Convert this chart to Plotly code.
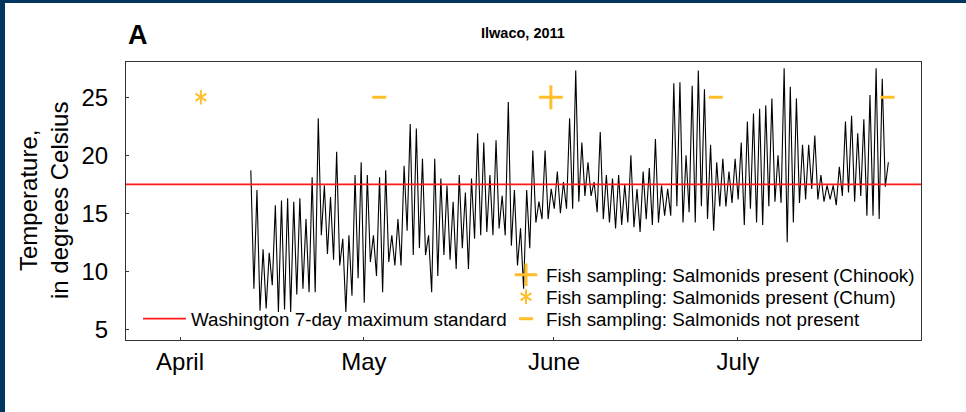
import pandas as pd
import plotly.graph_objects as go

# ---------------- data ----------------
BASE = pd.Timestamp("2011-04-01")
FIRST_DAY = 11.55          # day offset (from April 1) of first reading
STEP_DAYS = 0.5            # alternating afternoon high / night low

daily_high = [
    18.7, 17.0, 11.9, 11.6, 15.7, 16.1, 16.3, 16.0, 16.3, 14.5,
    18.1, 23.2, 17.4, 16.4, 20.3, 12.8, 13.1, 18.3, 19.4, 18.3,
    13.1, 18.1, 18.7, 13.1, 14.5, 19.1, 22.7, 22.3, 19.7, 13.1,
    19.7, 18.0, 17.4, 16.0, 18.3, 16.8, 18.0, 21.9, 21.1, 18.3,
    21.3, 16.5, 24.6, 17.0, 13.7, 17.0, 20.4, 16.0, 20.4, 17.1,
    18.6, 17.7, 23.2, 27.3, 21.1, 19.4, 17.7, 22.0, 18.3, 18.0,
    18.3, 17.5, 20.0, 17.1, 18.6, 18.9, 21.4, 17.4, 17.1, 26.2,
    26.3, 20.0, 26.0, 27.3, 25.7, 20.9, 19.4, 19.7, 18.6, 19.7,
    21.1, 22.9, 23.6, 24.0, 24.3, 24.9, 20.0, 27.5, 25.9, 24.9,
    20.9, 20.9, 21.7, 18.3, 17.4, 17.4, 19.0, 22.9, 23.4, 21.9,
    23.1, 25.2, 27.5, 26.6, 19.4,
]
daily_low = [
    8.5, 6.6, 6.8, 8.8, 6.5, 6.7, 6.5, 8.0, 8.5, 8.2,
    8.2, 13.1, 11.5, 11.0, 10.5, 6.5, 7.9, 9.4, 7.3, 10.8,
    9.6, 8.2, 10.8, 10.5, 10.5, 13.5, 11.4, 12.0, 11.4, 8.2,
    9.6, 11.4, 11.0, 10.2, 12.0, 10.2, 12.8, 13.1, 13.4, 13.1,
    13.7, 13.1, 12.2, 10.5, 8.5, 12.0, 14.2, 14.5, 14.5, 15.4,
    15.0, 15.4, 15.4, 16.0, 16.5, 16.5, 15.1, 14.5, 14.2, 13.7,
    14.0, 14.2, 13.8, 13.4, 14.5, 14.0, 14.2, 14.8, 14.8, 15.6,
    14.2, 15.1, 14.2, 15.6, 14.5, 13.5, 15.6, 15.6, 15.9, 16.2,
    14.0, 15.4, 14.2, 14.0, 15.6, 16.0, 15.9, 12.5, 14.2, 15.9,
    16.2, 17.1, 16.2, 16.0, 16.2, 15.7, 16.5, 16.8, 16.0, 16.5,
    14.8, 14.8, 14.5, 17.3,
]

standard_value = 17.5
standard_name = "Washington 7-day maximum standard"

# fish sampling events (day offset from April 1, plotted at 25)
sample_level = 25
chinook_days = [60.5]
chum_days = [3.4]
absent_days = [32.5, 87.4, 115.4]

month_ticks = ["2011-04-01", "2011-05-01", "2011-06-01", "2011-07-01"]
month_labels = ["April", "May", "June", "July"]
x_range = ["2011-03-23 04:30", "2011-07-30 21:00"]
y_range = [4.08, 28.04]
y_ticks = [5, 10, 15, 20, 25]

# ---------------- build series ----------------
temps = []
for i, h in enumerate(daily_high):
    temps.append(h)
    if i < len(daily_low):
        temps.append(daily_low[i])
times = [BASE + pd.Timedelta(days=FIRST_DAY + STEP_DAYS * i) for i in range(len(temps))]


def to_dates(days):
    return [BASE + pd.Timedelta(days=d) for d in days]


FONT = "Liberation Sans, Arial, sans-serif"
GOLD = "#FFBE2A"

fig = go.Figure()
fig.add_trace(go.Scatter(x=times, y=temps, mode="lines",
                         line=dict(color="black", width=1.1),
                         showlegend=False, hoverinfo="skip"))
fig.add_trace(go.Scatter(x=x_range, y=[standard_value] * 2, mode="lines",
                         line=dict(color="#FF1A1A", width=1.8),
                         name=standard_name, legend="legend"))
fig.add_trace(go.Scatter(x=to_dates(chinook_days), y=[sample_level] * len(chinook_days),
                         mode="markers", name="Fish sampling: Salmonids present (Chinook)",
                         marker=dict(symbol="cross-thin-open", size=17,
                                     line=dict(color=GOLD, width=3), color=GOLD),
                         legend="legend2"))
# six-armed asterisk = two three-armed symbols overlaid
fig.add_trace(go.Scatter(x=to_dates(chum_days), y=[sample_level] * len(chum_days),
                         mode="markers", name="Fish sampling: Salmonids present (Chum)",
                         marker=dict(symbol="y-up-open", size=9,
                                     line=dict(color=GOLD, width=2), color=GOLD),
                         legend="legend3"))
fig.add_trace(go.Scatter(x=to_dates(chum_days), y=[sample_level] * len(chum_days),
                         mode="markers", name=" ",
                         marker=dict(symbol="y-down-open", size=9,
                                     line=dict(color=GOLD, width=2), color=GOLD),
                         legend="legend5"))
fig.add_trace(go.Scatter(x=to_dates(absent_days), y=[sample_level] * len(absent_days),
                         mode="markers", name="Fish sampling: Salmonids not present",
                         marker=dict(symbol="line-ew-open", size=10,
                                     line=dict(color=GOLD, width=3), color=GOLD),
                         legend="legend4"))

W, H = 966, 412
L, R, T, B = 126, 45, 62, 72
pw, ph = W - L - R, H - T - B


def px(xp):
    return (xp - L) / pw


def py(yp):
    return (H - B - yp) / ph


def leg(xp, yp, **kw):
    d = dict(x=px(xp), y=py(yp), xanchor="left", yanchor="middle",
             bgcolor="rgba(0,0,0,0)", font=dict(size=18.8))
    d.update(kw)
    return d


fig.update_layout(
    width=W, height=H,
    margin=dict(l=L, r=R, t=T, b=B),
    paper_bgcolor="white", plot_bgcolor="white",
    font=dict(family=FONT, color="black", size=18.8),
    legend=leg(138, 319, itemwidth=43),
    legend2=leg(506, 275),
    legend3=leg(506, 297),
    legend4=leg(506, 319),
    legend5=leg(506, 297),
    xaxis=dict(type="date", range=x_range, tickvals=month_ticks, ticktext=month_labels,
               ticks="inside", ticklen=3, tickcolor="#333", showgrid=False,
               zeroline=False, showline=True, linecolor="#333", linewidth=1.2,
               mirror=True, tickfont=dict(size=24), ticklabelstandoff=0),
    yaxis=dict(range=y_range, tickvals=y_ticks, ticks="inside", ticklen=3,
               tickcolor="#333", showgrid=False, zeroline=False, showline=True,
               linecolor="#333", linewidth=1.2, mirror=True,
               tickfont=dict(size=24), ticklabelstandoff=12),
    showlegend=True,
)

fig.add_annotation(text="<b>A</b>", xref="paper", yref="paper", x=px(126), y=py(35),
                   xanchor="left", yanchor="middle", showarrow=False,
                   font=dict(size=27, family=FONT))
fig.add_annotation(text="<b>Ilwaco, 2011</b>", xref="paper", yref="paper",
                   x=px(523), y=py(33), xanchor="center", yanchor="middle",
                   showarrow=False, font=dict(size=14.5, family=FONT))
fig.add_annotation(text="Temperature,<br>in degrees Celsius", xref="paper", yref="paper",
                   x=px(44), y=py(201), xanchor="center", yanchor="middle",
                   textangle=-90, showarrow=False, font=dict(size=24, family=FONT))

# dark frame strips at the top and left edges of the page
NAVY = "#02365F"
fig.add_shape(type="rect", xref="paper", yref="paper", x0=px(0), x1=px(W),
              y0=py(3), y1=py(0), fillcolor=NAVY, line_width=0, layer="above")
fig.add_shape(type="rect", xref="paper", yref="paper", x0=px(0), x1=px(5),
              y0=py(H), y1=py(0), fillcolor=NAVY, line_width=0, layer="above")

fig.write_html("out.html")
